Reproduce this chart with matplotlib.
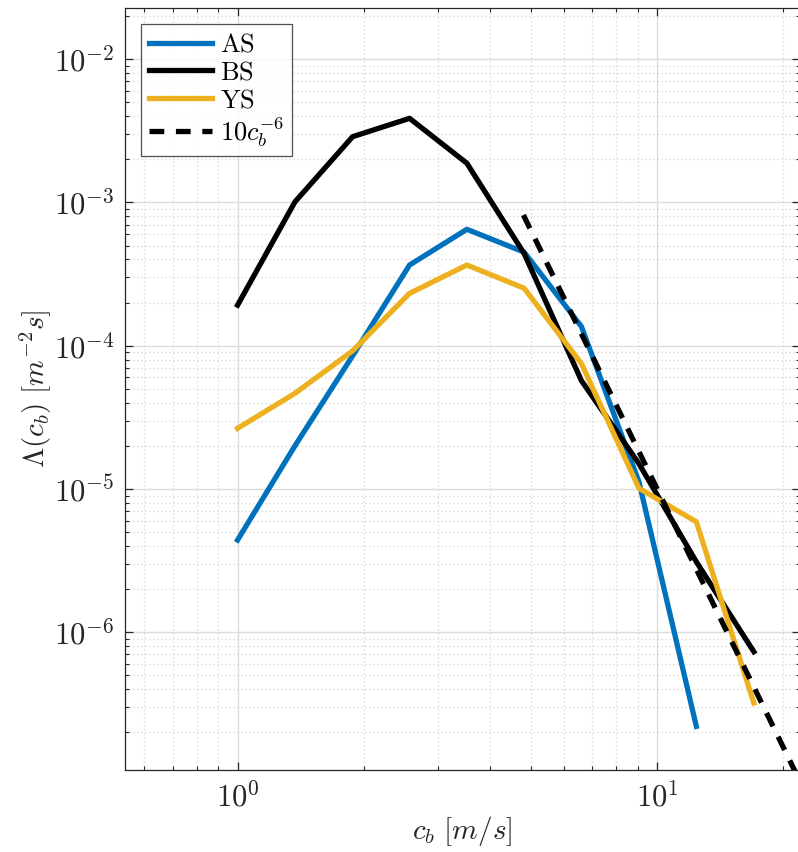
import numpy as np
import matplotlib
matplotlib.use("Agg")
import matplotlib.pyplot as plt
from matplotlib.ticker import LogLocator, NullFormatter, FuncFormatter

# phase speed bins c_b [m/s]
cb = [1.0, 1.37, 1.88, 2.57, 3.52, 4.82, 6.6, 9.05, 12.4, 17.0]

# Lambda(c_b) for the three seas
lam_as = [4.4e-6, 2.0e-5, 8.5e-5, 3.66e-4, 6.5e-4, 4.5e-4, 1.36e-4, 1.12e-5, 2.2e-7]
lam_bs = [1.92e-4, 1.01e-3, 2.88e-3, 3.87e-3, 1.88e-3, 4.4e-4, 5.7e-5, 1.5e-5, 3.1e-6, 7.3e-7]
lam_ys = [2.65e-5, 4.65e-5, 9.2e-5, 2.32e-4, 3.66e-4, 2.52e-4, 7.5e-5, 1.01e-5, 5.9e-6, 3.2e-7]

# reference slope 10*c_b^-6
ref_c = [4.8, 6.0, 8.0, 10.0, 14.0, 20.0, 25.0]

plt.rcParams["mathtext.fontset"] = "cm"
plt.rcParams["font.family"] = "serif"
plt.rcParams["font.serif"] = ["DejaVu Serif"]

axcol = "#262626"

fig = plt.figure(figsize=(7.98, 8.52), dpi=100)
ax = fig.add_axes([0.157, 0.0962, 0.8455, 0.8944])

lw = 3.8
ax.plot(cb[:len(lam_as)], lam_as, color="#0072BD", lw=lw, label=r"$\mathrm{AS}$")
ax.plot(cb, lam_bs, color="black", lw=lw, label=r"$\mathrm{BS}$")
ax.plot(cb, lam_ys, color="#EDB120", lw=lw, label=r"$\mathrm{YS}$")
ref = np.array(ref_c)
ax.plot(ref, 10 * ref ** -6.0, color="black", lw=lw, ls=(0, (2.8, 2.2)),
        label=r"$10c_b^{-6}$")

ax.set_xscale("log")
ax.set_yscale("log")
ax.set_xlim(0.54, 21.9)
ax.set_ylim(1.09e-7, 2.28e-2)

pow_fmt = FuncFormatter(lambda v, p: r"$10^{%d}$" % int(round(np.log10(v))))
ax.xaxis.set_major_locator(LogLocator(base=10, numticks=10))
ax.yaxis.set_major_locator(LogLocator(base=10, numticks=10))
ax.xaxis.set_major_formatter(pow_fmt)
ax.yaxis.set_major_formatter(pow_fmt)
ax.xaxis.set_minor_locator(LogLocator(base=10, subs=np.arange(2, 10), numticks=20))
ax.yaxis.set_minor_locator(LogLocator(base=10, subs=np.arange(2, 10), numticks=20))
ax.xaxis.set_minor_formatter(NullFormatter())
ax.yaxis.set_minor_formatter(NullFormatter())

ax.grid(True, which="major", color="#dcdcdc", lw=1.0, ls="-")
ax.grid(True, which="minor", color="#d2d2d2", lw=0.9, ls=(0, (1, 2.2)))
ax.set_axisbelow(True)

ax.tick_params(which="both", direction="in", top=True, right=True, colors=axcol,
               labelsize=22)
ax.tick_params(which="major", length=5.5, width=0.9)
ax.tick_params(which="minor", length=3, width=0.8)
ax.tick_params(axis="x", pad=9)
ax.tick_params(axis="y", pad=8)
for s in ax.spines.values():
    s.set_color(axcol)
    s.set_linewidth(0.9)

ax.set_xlabel(r"$c_b\ [m/s]$", fontsize=21, color=axcol, labelpad=0)
ax.set_ylabel(r"$\Lambda(c_b)\ [m^{-2}s]$", fontsize=21, color=axcol, labelpad=0)

leg = ax.legend(loc="upper left", fontsize=19, frameon=True, fancybox=False,
                handlelength=2.4, handletextpad=0.3, labelspacing=0.1,
                borderpad=0.3, borderaxespad=0.6)
leg.get_frame().set_edgecolor(axcol)
leg.get_frame().set_linewidth(0.9)

fig.savefig("out.png", dpi=100)
